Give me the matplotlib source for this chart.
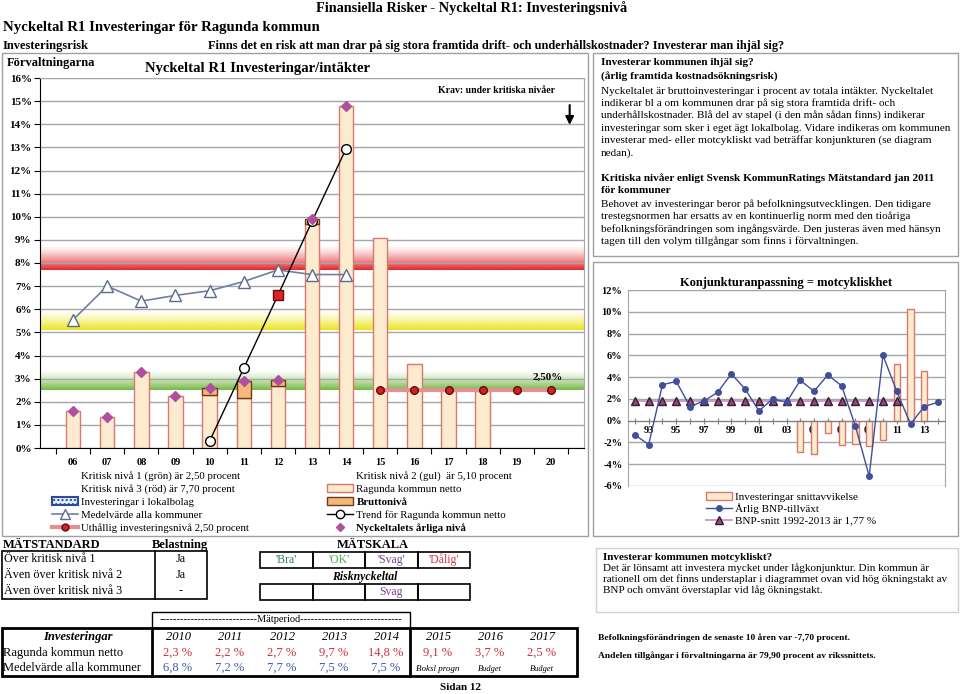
import numpy as np
import matplotlib as mpl
import matplotlib.pyplot as plt
from matplotlib.patches import Rectangle, Patch
from matplotlib.lines import Line2D

plt.rcParams['font.family'] = ['Liberation Serif', 'DejaVu Serif']

# Main chart data, per cent of revenue
years = ['06', '07', '08', '09', '10', '11', '12', '13', '14', '15', '16', '17', '18', '19', '20']
netto_years = ['06', '07', '08', '09', '10', '11', '12', '13', '14', '15', '16', '17', '18']
netto = [1.6, 1.35, 3.3, 2.25, 2.3, 2.15, 2.7, 9.7, 14.8, 9.1, 3.65, 2.5, 2.45]
brutto_years = ['10', '11', '12', '13']
brutto = [2.6, 2.9, 2.95, 9.9]
level_years = ['06', '07', '08', '09', '10', '11', '12', '13', '14']
level = [1.6, 1.35, 3.3, 2.25, 2.6, 2.9, 2.95, 9.9, 14.8]
medel = [5.55, 7.0, 6.35, 6.6, 6.8, 7.2, 7.7, 7.5, 7.5]
trend_years = ['10', '11', '12', '13', '14']
trend = [0.3, 3.45, 6.6, 9.8, 12.95]
steady_years = ['15', '16', '17', '18', '19', '20']
steady = [2.5, 2.5, 2.5, 2.5, 2.5, 2.5]
critical = [2.5, 5.1, 7.7]
y_ticks = [0, 1, 2, 3, 4, 5, 6, 7, 8, 9, 10, 11, 12, 13, 14, 15, 16]

# Business cycle chart data
bnp_years = [1992, 1993, 1994, 1995, 1996, 1997, 1998, 1999, 2000, 2001, 2002, 2003,
             2004, 2005, 2006, 2007, 2008, 2009, 2010, 2011, 2012, 2013, 2014]
bnp = [-1.3, -2.2, 3.3, 3.6, 1.3, 1.8, 2.6, 4.3, 2.9, 0.9, 2.0, 1.7,
       3.7, 2.7, 4.2, 3.2, -0.5, -5.1, 6.0, 2.7, -0.3, 1.3, 1.7]
snitt_years = [1992, 1993, 1994, 1995, 1996, 1997, 1998, 1999, 2000, 2001,
               2002, 2003, 2004, 2005, 2006, 2007, 2008, 2009, 2010, 2011]
bnp_snitt = [1.77, 1.77, 1.77, 1.77, 1.77, 1.77, 1.77, 1.77, 1.77, 1.77,
             1.77, 1.77, 1.77, 1.77, 1.77, 1.77, 1.77, 1.77, 1.77, 1.77]
avvik_years = [2004, 2005, 2006, 2007, 2008, 2009, 2010, 2011, 2012, 2013]
avvik = [-2.9, -3.1, -1.1, -2.2, -2.1, -2.3, -1.8, 5.2, 10.3, 4.6]

# Table data
tab_years = ['2010', '2011', '2012', '2013', '2014', '2015', '2016', '2017']
tab_netto = [2.3, 2.2, 2.7, 9.7, 14.8, 9.1, 3.7, 2.5]
tab_medel = [6.8, 7.2, 7.7, 7.5, 7.5]
tab_notes = ['Boksl progn', 'Budget', 'Budget']
belastning = [('Över kritisk nivå 1', 'Ja'), ('Även över kritisk nivå 2', 'Ja'), ('Även över kritisk nivå 3', '-')]
skala = ["'Bra'", "'OK'", "'Svag'", "'Dålig'"]
skala_colors = ['#2E8060', '#4CAF50', '#7E3F8F', '#D03A4A']
risk_grade = 2  # index into skala -> Svag

BAR_FACE = '#FDEBD0'
BAR_EDGE = '#D8786E'


def pct(v):
    return f"{v:.1f} %".replace('.', ',')


def band(ax, lo, hi, color, x0, x1):
    # vertical gradient: full colour at the critical level, fading upwards
    rgba = np.zeros((80, 1, 4))
    rgba[..., :3] = mpl.colors.to_rgb(color)
    rgba[:, 0, 3] = np.linspace(1, 0, 80) ** 1.3
    ax.imshow(rgba, extent=(x0, x1, lo, hi), origin='lower', aspect='auto',
              interpolation='bilinear', zorder=0.5)


fig = plt.figure(figsize=(9.6, 6.94), dpi=100)

# ---------------- main chart ----------------
ax = fig.add_axes([40 / 960, 1 - 448 / 694, 544 / 960, 370 / 694])
pos = {y: i for i, y in enumerate(years)}
x0, x1 = -0.97, len(years) - 0.03

band(ax, critical[0], critical[0] + 0.85, '#74B843', x0, x1)
band(ax, critical[1], critical[1] + 0.85, '#EDE51A', x0, x1)
band(ax, critical[2], critical[2] + 1.05, '#E3262B', x0, x1)

for t in y_ticks:
    ax.axhline(t, color='#A6A6A6', lw=1, zorder=1)

xn = [pos[y] for y in netto_years]
ax.bar(xn, netto, width=0.42, color=BAR_FACE, edgecolor=BAR_EDGE, lw=1, zorder=2)
xb = [pos[y] for y in brutto_years]
base = [netto[netto_years.index(y)] for y in brutto_years]
ax.bar(xb, np.array(brutto) - np.array(base), bottom=base, width=0.42,
       color='#F4B878', edgecolor='#6B3A1A', lw=1, zorder=2.1)

xl = [pos[y] for y in level_years]
ax.plot(xl, medel, color='#6E7FA3', lw=1.2, marker='^', ms=8, mfc='white',
        mec='#5A6A90', zorder=3)

xs = [pos[y] for y in steady_years]
ax.plot(xs, steady, color='#E29090', lw=3, marker='o', ms=5.5, mfc='#D42020',
        mec='#5A1010', zorder=3)

xt = [pos[y] for y in trend_years]
ax.plot(xt, trend, color='black', lw=1, zorder=4)
for xx, yy, y in zip(xt, trend, trend_years):
    if y == '12':
        ax.plot(xx, yy, marker='s', ms=7, mfc='#E4202A', mec='#5A1010', zorder=5)
    else:
        ax.plot(xx, yy, marker='o', ms=7, mfc='white', mec='black', zorder=5)

ax.plot(xl, level, ls='none', marker='D', ms=5, color='#B04FA0', zorder=6)

ax.text(13.9, 3.05, '2,50%', fontsize=8, fontweight='bold', ha='center', va='center', zorder=7)
ax.text(12.4, 15.45, 'Krav: under kritiska nivåer', fontsize=7, fontweight='bold',
        ha='center', va='center', zorder=7)
ax.annotate('', xy=(14.55, 13.85), xytext=(14.55, 14.95),
            arrowprops=dict(arrowstyle='-|>', color='black', lw=1.5, mutation_scale=12))

ax.set_xlim(x0, x1)
ax.set_ylim(0, 16)
ax.set_yticks(y_ticks)
ax.set_yticklabels([f"{t}%" for t in y_ticks], fontsize=8, fontweight='bold')
ax.set_xticks(np.arange(-0.5, len(years), 1.0))
ax.set_xticklabels([])
ax.set_xticks(range(len(years)), minor=True)
ax.set_xticklabels(years, minor=True, fontsize=7.5, fontweight='bold')
ax.tick_params(axis='x', which='minor', length=0, pad=7)
ax.tick_params(axis='x', which='major', length=4, direction='out')
ax.tick_params(axis='y', length=4, pad=2)
for s in ['top', 'right']:
    ax.spines[s].set_color('#A6A6A6')
ax.spines['left'].set_color('black')
ax.spines['bottom'].set_color('black')

handles = [
    Line2D([], [], color='none'),
    Line2D([], [], color='none'),
    Patch(facecolor='#E4ECF8', edgecolor='#2B4A9B', lw=1.5, hatch='....'),
    Line2D([], [], color='#6E7FA3', lw=1.2, marker='^', ms=7, mfc='white', mec='#5A6A90'),
    Line2D([], [], color='#E29090', lw=3, marker='o', ms=5, mfc='#D42020', mec='#5A1010'),
    Line2D([], [], color='none'),
    Patch(facecolor=BAR_FACE, edgecolor=BAR_EDGE, lw=1),
    Patch(facecolor='#F4B878', edgecolor='#6B3A1A', lw=1),
    Line2D([], [], color='black', lw=1, marker='o', ms=6, mfc='white', mec='black'),
    Line2D([], [], color='#B04FA0', ls='none', marker='D', ms=4.5),
]
labels = [
    'Kritisk nivå 1 (grön) är 2,50 procent',
    'Kritisk nivå 3 (röd) är 7,70 procent',
    'Investeringar i lokalbolag',
    'Medelvärde alla kommuner',
    'Uthållig investeringsnivå 2,50 procent',
    'Kritisk nivå 2 (gul)  är 5,10 procent',
    'Ragunda kommun netto',
    'Bruttonivå',
    'Trend för Ragunda kommun netto',
    'Nyckeltalets årliga nivå',
]
leg = ax.legend(handles, labels, ncol=2, loc='upper left',
                bbox_to_anchor=(52 / 960, 1 - 471 / 694), bbox_transform=fig.transFigure,
                frameon=False, fontsize=7.8, handlelength=2.4, handletextpad=0.3,
                columnspacing=7.2, labelspacing=0.3, borderpad=0, borderaxespad=0)
for i in (7, 9):
    leg.get_texts()[i].set_fontweight('bold')

# ---------------- business cycle chart ----------------
ax2 = fig.add_axes([628 / 960, 1 - 486 / 694, 317 / 960, 196 / 694])
bx = {y: i for i, y in enumerate(bnp_years)}
for t in range(-6, 13, 2):
    ax2.axhline(t, color='#A6A6A6', lw=1, zorder=1)
ax2.bar([bx[y] for y in avvik_years], avvik, width=0.45, color=BAR_FACE,
        edgecolor=BAR_EDGE, lw=1, zorder=2)
ax2.plot([bx[y] for y in snitt_years], bnp_snitt, color='#C090C0', lw=1.2, marker='^',
         ms=6, mfc='#8E4A7A', mec='#3A1A30', zorder=3)
ax2.plot([bx[y] for y in bnp_years], bnp, color='#3F4F9A', lw=1, marker='o', ms=4,
         zorder=4)
ax2.set_xlim(-0.5, len(bnp_years) - 0.5)
ax2.set_ylim(-6, 12)
ax2.set_yticks(range(-6, 13, 2))
ax2.set_yticklabels([f"{t}%" for t in range(-6, 13, 2)], fontsize=7.5, fontweight='bold')
ax2.tick_params(axis='y', length=0, pad=4)
ax2.spines['bottom'].set_position(('data', 0))
ax2.spines['bottom'].set_color('#808080')
for s in ['top', 'right', 'left']:
    ax2.spines[s].set_color('#A6A6A6')
ax2.set_xticks(range(len(bnp_years)))
ax2.set_xticklabels([str(y)[2:] if y % 2 == 1 else '' for y in bnp_years],
                    fontsize=7.5, fontweight='bold')
ax2.tick_params(axis='x', length=4, direction='inout', pad=2, color='#808080')
ax2.set_title('Konjunkturanpassning = motcykliskhet', fontsize=9, fontweight='bold', pad=3)

ax2.legend([Patch(facecolor=BAR_FACE, edgecolor=BAR_EDGE, lw=1),
            Line2D([], [], color='#3F4F9A', lw=1, marker='o', ms=4),
            Line2D([], [], color='#C090C0', lw=1.2, marker='^', ms=6, mfc='#8E4A7A', mec='#3A1A30')],
           ['Investeringar snittavvikelse', 'Årlig BNP-tillväxt', 'BNP-snitt 1992-2013 är 1,77 %'],
           loc='upper left', bbox_to_anchor=(706 / 960, 1 - 492 / 694),
           bbox_transform=fig.transFigure, frameon=False, fontsize=8,
           handlelength=2.3, handletextpad=0.3, labelspacing=0.15, borderpad=0, borderaxespad=0)

# ---------------- page overlay: frames, headings, tables ----------------
bg = fig.add_axes([0, 0, 1, 1], zorder=10)
bg.set_xlim(0, 960)
bg.set_ylim(694, 0)
bg.axis('off')


def box(xa, ya, xb_, yb, color='#A0A0A0', lw=1.0):
    bg.add_patch(Rectangle((xa, ya), xb_ - xa, yb - ya, fill=False, edgecolor=color, lw=lw))


def txt(x, y, s, size=8, weight='normal', **kw):
    bg.text(x, y, s, fontsize=size, fontweight=weight, va='center', **kw)


txt(316, 8, 'Finansiella Risker - Nyckeltal R1: Investeringsnivå', 10.3, 'bold')
txt(3, 27, 'Nyckeltal R1 Investeringar för Ragunda kommun', 10.7, 'bold')
txt(3, 46, 'Investeringsrisk', 9, 'bold')
txt(208, 46, 'Finns det en risk att man drar på sig stora framtida drift- och '
    'underhållskostnader? Investerar man ihjäl sig?', 8.85, 'bold')

box(2, 53, 588, 536)
box(593, 53, 958, 256)
box(593, 262, 958, 536)
box(596, 548, 958, 612, color='#D0D0D0')

txt(7, 63, 'Förvaltningarna', 9, 'bold')
txt(145, 68, 'Nyckeltal R1 Investeringar/intäkter', 10.6, 'bold')

right_lines = [
    (62, 'Investerar kommunen ihjäl sig?', 'bold'),
    (77, '(årlig framtida kostnadsökningsrisk)', 'bold'),
    (91, 'Nyckeltalet är bruttoinvesteringar i procent av totala intäkter. Nyckeltalet', 'normal'),
    (103, 'indikerar bl a om kommunen drar på sig stora framtida drift- och', 'normal'),
    (115, 'underhållskostnader. Blå del av stapel (i den mån sådan finns) indikerar', 'normal'),
    (128, 'investeringar som sker i eget ägt lokalbolag. Vidare indikeras om kommunen', 'normal'),
    (140, 'investerar med- eller motcykliskt vad beträffar konjunkturen (se diagram', 'normal'),
    (153, 'nedan).', 'normal'),
    (178, 'Kritiska nivåer enligt Svensk KommunRatings Mätstandard jan 2011', 'bold'),
    (190, 'för kommuner', 'bold'),
    (204, 'Behovet av investeringar beror på befolkningsutvecklingen. Den tidigare', 'normal'),
    (216, 'trestegsnormen har ersatts av en kontinuerlig norm med den tioåriga', 'normal'),
    (229, 'befolkningsförändringen som ingångsvärde. Den justeras även med hänsyn', 'normal'),
    (241, 'tagen till den volym tillgångar som finns i förvaltningen.', 'normal'),
]
for y, s, w in right_lines:
    txt(601, y, s, 8.1, w)

txt(603, 557, 'Investerar kommunen motcykliskt?', 8, 'bold')
txt(603, 568, 'Det är lönsamt att investera mycket under lågkonjunktur. Din kommun är', 8)
txt(603, 579, 'rationell om det finns understaplar i diagrammet ovan vid hög ökningstakt av', 8)
txt(603, 590, 'BNP och omvänt överstaplar vid låg ökningstakt.', 8)
txt(598, 638, 'Befolkningsförändringen de senaste 10 åren var -7,70 procent.', 6.8, 'bold')
txt(598, 656, 'Andelen tillgångar i förvaltningarna är 79,90 procent av rikssnittets.', 6.8, 'bold')

# MÄTSTANDARD table
txt(3, 545, 'MÄTSTANDARD', 9, 'bold')
txt(152, 545, 'Belastning', 9, 'bold')
txt(373, 545, 'MÄTSKALA', 9, 'bold', ha='center')
box(2, 551, 207, 599, color='black', lw=1.2)
bg.plot([155, 155], [551, 599], color='black', lw=1.2)
for i, (name, val) in enumerate(belastning):
    txt(4, 559 + i * 16, name, 8.7)
    txt(181, 559 + i * 16, val, 8.7, ha='center')

cw = 52.5
for i, (s, c) in enumerate(zip(skala, skala_colors)):
    box(260 + i * cw, 552, 260 + (i + 1) * cw, 568, color='black', lw=1.2)
    txt(260 + (i + 0.5) * cw, 560, s, 8.5, color=c, ha='center')
    box(260 + i * cw, 584, 260 + (i + 1) * cw, 600, color='black', lw=1.2)
txt(260 + (risk_grade + 0.5) * cw, 592, skala[risk_grade].strip("'"), 8.5,
    color=skala_colors[risk_grade], ha='center')
txt(365, 577, 'Risknyckeltal', 8.5, 'bold', ha='center', style='italic')

# Investeringar table
box(152, 612, 410, 628, color='black', lw=1)
txt(281, 620, '----------------------------Mätperiod-----------------------------', 7.5, ha='center')
box(2, 628, 577, 676, color='black', lw=2)
bg.plot([152, 152], [628, 676], color='black', lw=2)
bg.plot([410, 410], [628, 676], color='black', lw=2)
txt(78, 637, 'Investeringar', 9, 'bold', ha='center', style='italic')
txt(3, 653, 'Ragunda kommun netto', 9)
txt(3, 668, 'Medelvärde alla kommuner', 9)
col_x = [178, 230, 282, 334, 386, 438, 490, 542]
for i, y in enumerate(tab_years):
    txt(col_x[i], 637, y, 9, ha='center', style='italic')
    txt(col_x[i], 653, pct(tab_netto[i]), 9, color='#C8323F', ha='center')
for i, v in enumerate(tab_medel):
    txt(col_x[i], 668, pct(v), 9, color='#3E5CA8', ha='center')
for i, s in enumerate(tab_notes):
    txt(col_x[5 + i], 669, s, 6 if i else 6.5, ha='center', style='italic')
txt(460, 688, 'Sidan 12', 8, 'bold', ha='center')

fig.savefig('out.png', dpi=100)
